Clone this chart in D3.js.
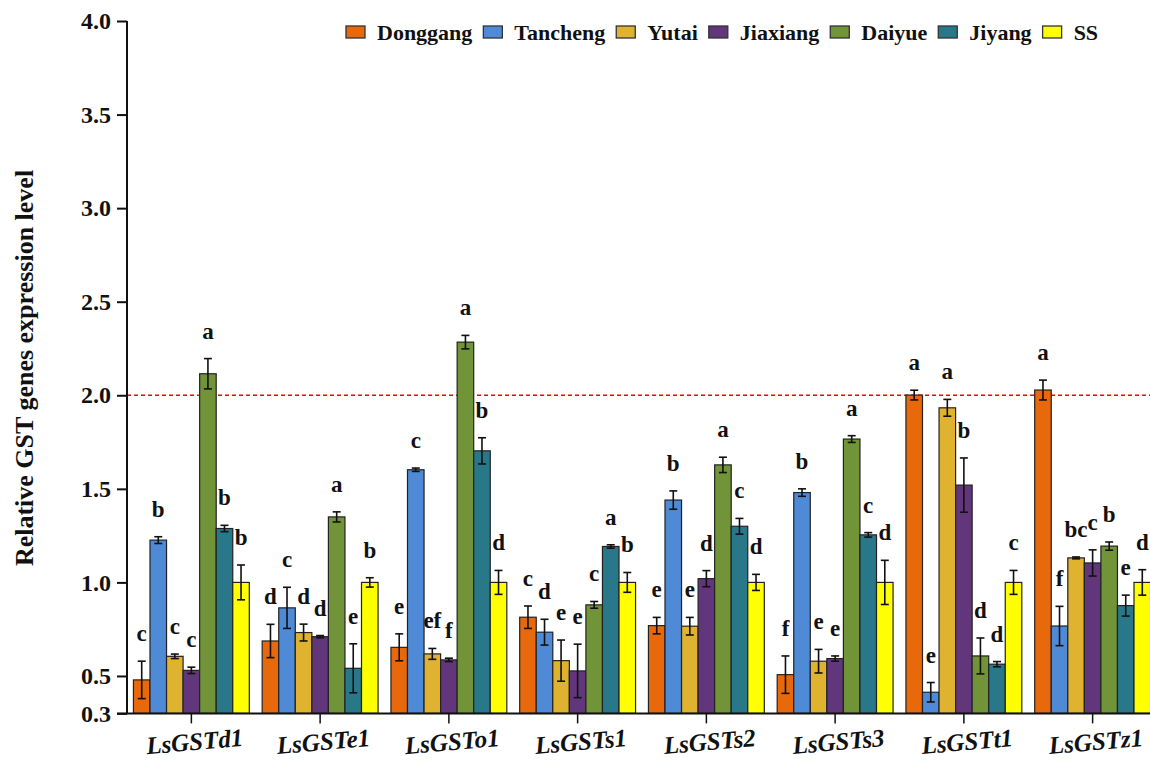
<!DOCTYPE html>
<html><head><meta charset="utf-8">
<script src="https://cdn.jsdelivr.net/npm/d3@7/dist/d3.min.js"></script>
<style>
body{margin:0;background:#fff;}
svg{display:block;}
svg text{font-family:"Times New Roman","Liberation Serif","DejaVu Serif",serif !important;font-weight:bold;}
</style></head>
<body><svg id="c" width="1150" height="762" font-family="Liberation Serif"></svg>
<script>
const genes = ["LsGSTd1","LsGSTe1","LsGSTo1","LsGSTs1","LsGSTs2","LsGSTs3","LsGSTt1","LsGSTz1"];
const series = ["Donggang","Tancheng","Yutai","Jiaxiang","Daiyue","Jiyang","SS"];
const colors = ["#e8690b","#4f8ad6","#dfb22f","#62367a","#719439","#28788a","#ffff00"];
// values per series (one per gene)
const Donggang = [0.479,0.687,0.653,0.814,0.769,0.507,2.001,2.028];
const Tancheng = [1.226,0.864,1.602,0.734,1.440,1.480,0.413,0.767];
const Yutai    = [0.605,0.732,0.618,0.582,0.766,0.579,1.933,1.131];
const Jiaxiang = [0.530,0.710,0.586,0.527,1.020,0.593,1.520,1.104];
const Daiyue   = [2.115,1.350,2.284,0.880,1.628,1.766,0.607,1.194];
const Jiyang   = [1.288,0.541,1.703,1.192,1.300,1.254,0.563,0.876];
const SS       = [1.000,1.000,1.000,1.000,1.000,1.000,1.000,1.000];
// error (SD) per series
const errDonggang = [0.100,0.089,0.072,0.060,0.044,0.100,0.026,0.053];
const errTancheng = [0.018,0.110,0.009,0.069,0.049,0.020,0.052,0.105];
const errYutai    = [0.012,0.045,0.029,0.110,0.047,0.063,0.045,0.005];
const errJiaxiang = [0.017,0.006,0.009,0.143,0.043,0.014,0.145,0.070];
const errDaiyue   = [0.081,0.027,0.036,0.018,0.041,0.018,0.096,0.022];
const errJiyang   = [0.017,0.131,0.070,0.009,0.042,0.012,0.014,0.056];
const errSS       = [0.093,0.025,0.064,0.053,0.043,0.118,0.064,0.068];
// significance letters per series
const letDonggang = ["c","d","e","c","e","f","a","a"];
const letTancheng = ["b","c","c","d","b","b","e","f"];
const letYutai    = ["c","d","ef","e","e","e","a","bc"];
const letJiaxiang = ["c","d","f","e","d","e","b","c"];
const letDaiyue   = ["a","a","a","c","a","a","d","b"];
const letJiyang   = ["b","e","b","a","c","c","d","e"];
const letSS       = ["b","b","d","b","d","d","c","d"];
const yTicks = [0.3,0.5,1.0,1.5,2.0,2.5,3.0,3.5,4.0];
const refLine = 2.0;
const yTitle = "Relative GST genes expression level";

const vals = [Donggang,Tancheng,Yutai,Jiaxiang,Daiyue,Jiyang,SS];
const errs = [errDonggang,errTancheng,errYutai,errJiaxiang,errDaiyue,errJiyang,errSS];
const lets = [letDonggang,letTancheng,letYutai,letJiaxiang,letDaiyue,letJiyang,letSS];

const svg = d3.select("#c");
const x0 = d3.scaleBand().domain(genes).range([127,1157]).paddingInner(0.1).paddingOuter(0.05);
const x1 = d3.scaleBand().domain(series).range([0,x0.bandwidth()]);
const y = d3.scaleLinear().domain([0.3,4.0]).range([713.4,21]);

const data = [];
genes.forEach((g,gi)=>series.forEach((s,si)=>data.push({g,s,si,v:vals[si][gi],e:errs[si][gi],l:lets[si][gi]})));

// reference line
svg.append("line").attr("x1",127).attr("x2",1150).attr("y1",y(refLine)).attr("y2",y(refLine))
  .attr("stroke","#ff0000").attr("stroke-width",1.4).attr("stroke-dasharray","4,3");

svg.append("g").selectAll("rect").data(data).join("rect")
  .attr("x",d=>x0(d.g)+x1(d.s)).attr("width",x1.bandwidth())
  .attr("y",d=>y(d.v)).attr("height",d=>y(0.3)-y(d.v))
  .attr("fill",d=>colors[d.si]).attr("stroke","#222").attr("stroke-width",1.2);

// error bars
const eb = svg.append("g").attr("stroke","#111").attr("stroke-width",1.6);
data.forEach(d=>{
  const cx = x0(d.g)+x1(d.s)+x1.bandwidth()/2;
  eb.append("line").attr("x1",cx).attr("x2",cx).attr("y1",y(d.v+d.e)).attr("y2",y(d.v-d.e));
  eb.append("line").attr("x1",cx-4).attr("x2",cx+4).attr("y1",y(d.v+d.e)).attr("y2",y(d.v+d.e));
  eb.append("line").attr("x1",cx-4).attr("x2",cx+4).attr("y1",y(d.v-d.e)).attr("y2",y(d.v-d.e));
});

// letters
svg.append("g").selectAll("text").data(data).join("text")
  .attr("x",d=>x0(d.g)+x1(d.s)+x1.bandwidth()/2)
  .attr("y",d=>y(d.v+d.e)-20)
  .attr("text-anchor","middle").attr("font-size",23).attr("fill","#111")
  .text(d=>d.l);

// y axis
const ya = svg.append("g").attr("transform","translate(127,0)")
  .call(d3.axisLeft(y).tickValues(yTicks).tickFormat(d3.format(".1f")).tickSize(10).tickPadding(6));
ya.attr("font-family",null);
ya.select(".domain").attr("stroke","#111").attr("stroke-width",2).attr("d","M0,"+y(0.3)+"V"+y(4.0));
ya.selectAll(".tick line").attr("stroke","#111").attr("stroke-width",2);
ya.selectAll(".tick text").attr("font-size",24).attr("fill","#111");

// x axis
const xa = svg.append("g").attr("transform","translate(0,"+y(0.3)+")")
  .call(d3.axisBottom(x0).tickSize(10).tickFormat(""));
xa.attr("font-family",null);
xa.select(".domain").attr("stroke","#111").attr("stroke-width",2).attr("d","M117,0H1150");
xa.selectAll(".tick line").attr("stroke","#111").attr("stroke-width",1.5);

svg.append("g").selectAll("text").data(genes).join("text")
  .attr("transform",d=>"translate("+(x0(d)+x0.bandwidth()/2+4)+",750) rotate(-5)")
  .attr("text-anchor","middle").attr("font-size",25).attr("font-style","italic").attr("fill","#111")
  .text(d=>d);

// y title
svg.append("text").attr("transform","translate(33,368) rotate(-90)")
  .attr("text-anchor","middle").attr("font-size",26).attr("fill","#111").text(yTitle);

// legend
const lg = svg.append("g").attr("transform","translate(346,26)");
let lx = 0;
series.forEach((s,i)=>{
  lg.append("rect").attr("x",lx).attr("y",0).attr("width",19).attr("height",12)
    .attr("fill",colors[i]).attr("stroke","#333").attr("stroke-width",1.3);
  const t = lg.append("text").attr("x",lx+31).attr("y",14).attr("font-size",22).attr("fill","#111").text(s);
  lx += 31 + t.node().getComputedTextLength() + 11;
});
</script></body></html>
